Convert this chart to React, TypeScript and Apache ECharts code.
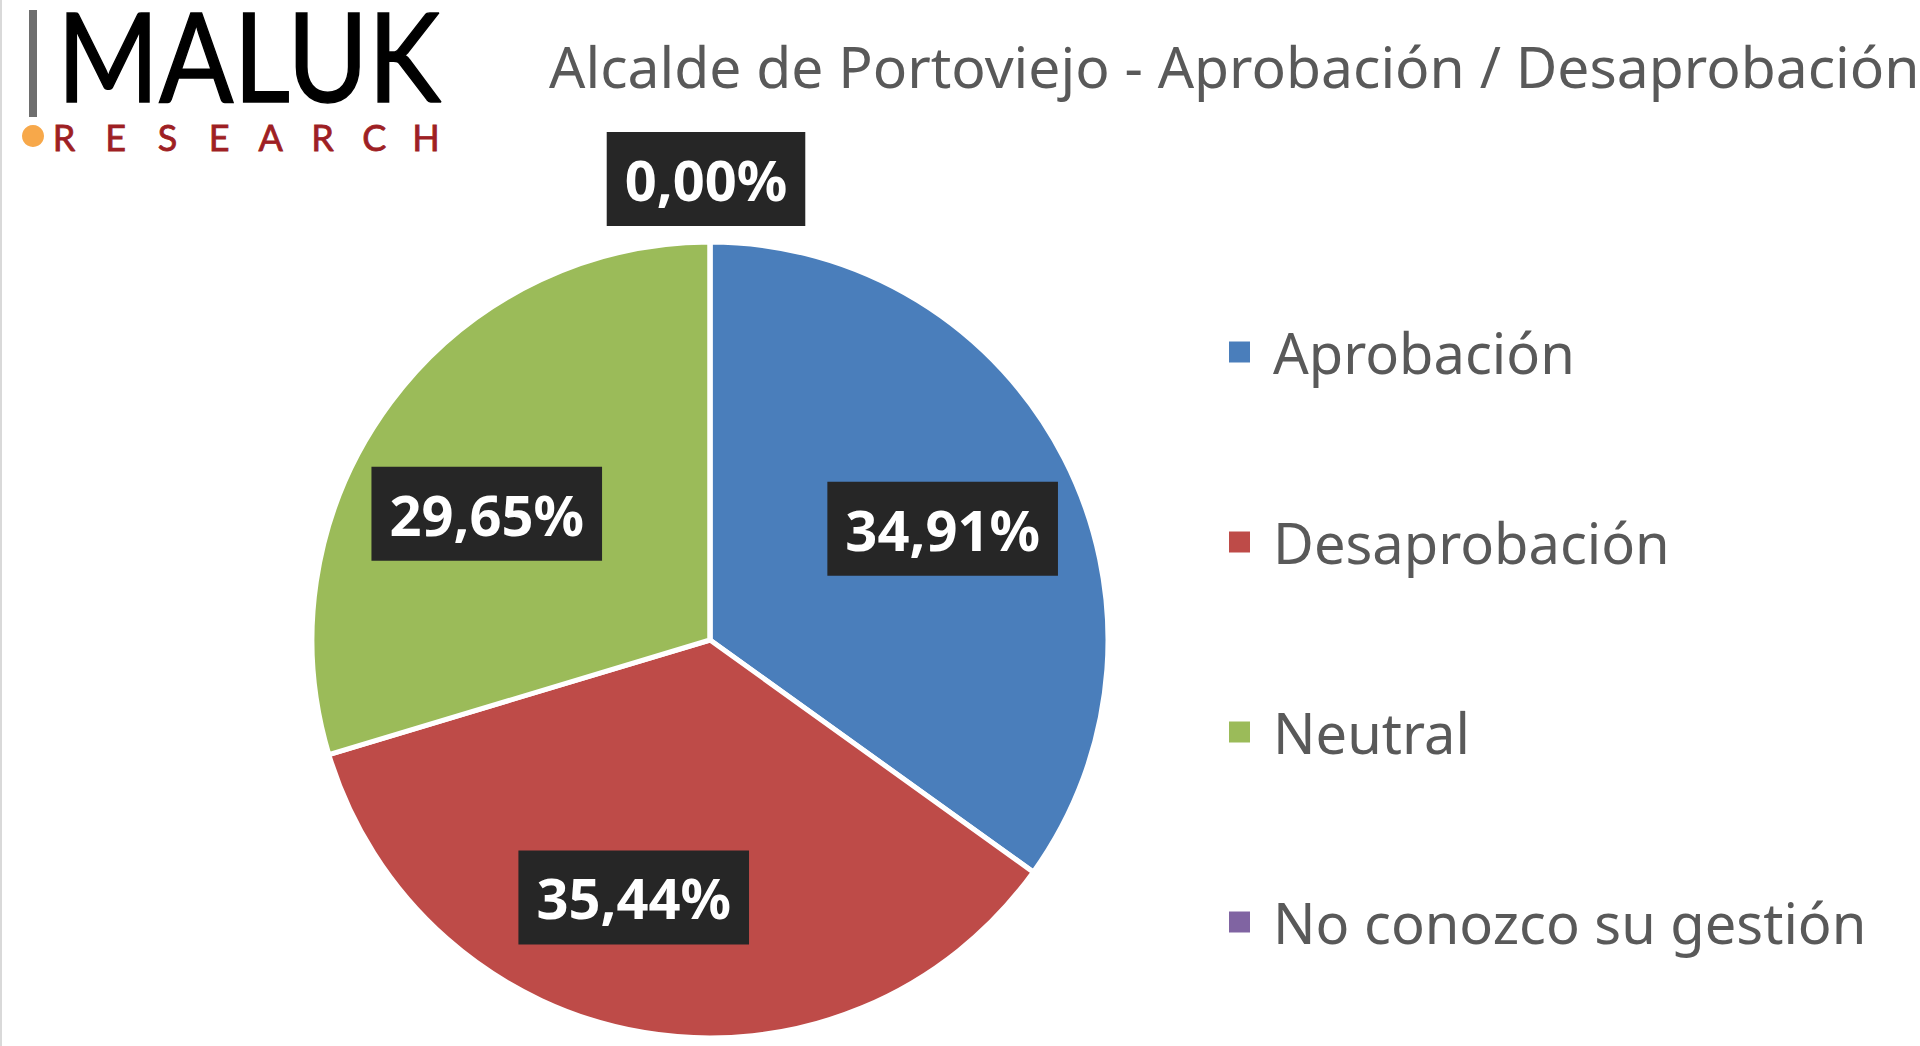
import React, { useEffect, useRef } from "react";
import * as echarts from "echarts";

const categories = ["Aprobación", "Desaprobación", "Neutral", "No conozco su gestión"];
const values = [34.91, 35.44, 29.65, 0.0];
const colors = ["#4A7EBB", "#BE4B48", "#9BBB59", "#8064A2"];
const titleText = "Alcalde de Portoviejo - Aprobación / Desaprobación";
const logoMain = "MALUK";
const logoSub = ["R", "E", "S", "E", "A", "R", "C", "H"];

const fmt = (v: number) => v.toFixed(2).replace(".", ",") + "%";

// small "best fit" nudges of the data labels, as the reference places them
const labelNudges = [
  [4, 6],
  [-34, 4],
  [-17, 27],
  [-4, 2],
];

const labelStyle = {
  color: "#ffffff",
  fontFamily: "Noto Sans",
  fontWeight: "bold" as const,
  fontSize: 56,
  lineHeight: 60,
  backgroundColor: "#262626",
  padding: [17, 18, 17, 18],
};

export default function App() {
  const ref = useRef<HTMLDivElement>(null);
  useEffect(() => {
    if (!ref.current) return;
    const chart = echarts.init(ref.current, null, { renderer: "svg" });
    const center = [710, 640];
    const baseData = categories.map((name, i) => ({
      name,
      value: values[i],
      itemStyle: { color: colors[i] },
    }));
    chart.setOption({
      animation: false,
      backgroundColor: "#ffffff",
      title: {
        text: titleText,
        left: 549,
        top: 37,
        padding: 0,
        textStyle: {
          fontFamily: "Noto Sans",
          fontWeight: "normal",
          fontSize: 57,
          lineHeight: 57,
          color: "#595959",
        },
      },
      legend: {
        orient: "vertical",
        left: 1222,
        top: 317,
        itemWidth: 23,
        itemHeight: 23,
        itemGap: 130,
        icon: "rect",
        data: categories.map((name, i) => ({ name, itemStyle: { color: colors[i] } })),
        textStyle: {
          fontFamily: "Noto Sans",
          fontSize: 56,
          lineHeight: 60,
          color: "#595959",
          padding: [0, 0, 0, 17],
        },
      },
      graphic: [
        { type: "line", shape: { x1: 1, y1: 0, x2: 1, y2: 1046 }, style: { stroke: "#d9d9d9", lineWidth: 2 } },
        { type: "rect", shape: { x: 29, y: 10, width: 8, height: 107 }, style: { fill: "#6e6e6e" } },
        {
          type: "text",
          x: 57,
          y: 54,
          scaleX: 0.88,
          style: {
            text: logoMain,
            x: 0,
            y: 0,
            font: "normal 125px Lato",
            lineHeight: 100,
            fill: "#000000",
            stroke: "#000000",
            lineWidth: 1.5,
            textAlign: "left",
            verticalAlign: "middle",
          },
        },
        { type: "circle", shape: { cx: 33, cy: 136, r: 11 }, style: { fill: "#F7A84A" } },
        ...logoSub.map((ch, i) => ({
          type: "text",
          x: 64 + i * 51.7,
          y: 137,
          style: {
            text: ch,
            x: 0,
            y: 0,
            font: "normal 36px Lato",
            fill: "#9E1F24",
            stroke: "#9E1F24",
            lineWidth: 0.8,
            textAlign: "center",
            verticalAlign: "middle",
          },
        })),
      ],
      series: [
        {
          type: "pie",
          center,
          radius: [0, 398],
          startAngle: 90,
          clockwise: true,
          silent: true,
          label: { show: false },
          labelLine: { show: false },
          itemStyle: { borderColor: "#ffffff", borderWidth: 5 },
          data: baseData,
        },
        {
          type: "pie",
          center,
          radius: [110, 398],
          startAngle: 90,
          clockwise: true,
          silent: true,
          itemStyle: { color: "transparent", borderWidth: 0 },
          labelLine: { show: false },
          data: categories.map((name, i) => ({
            name,
            value: values[i],
            label: { show: values[i] !== 0, offset: labelNudges[i] },
          })),
          label: {
            position: "inside",
            formatter: (p: any) => fmt(p.value),
            ...labelStyle,
          },
        },
        {
          type: "pie",
          center,
          radius: [400, 520],
          startAngle: 90,
          clockwise: true,
          silent: true,
          itemStyle: { color: "transparent", borderWidth: 0 },
          labelLine: { show: false },
          data: categories.map((name, i) => ({
            name,
            value: values[i],
            label: { show: values[i] === 0, offset: labelNudges[i] },
          })),
          label: {
            position: "inside",
            formatter: (p: any) => fmt(p.value),
            ...labelStyle,
          },
        },
      ],
    });
    return () => chart.dispose();
  }, []);
  return (
    <div
      ref={ref}
      style={{ position: "absolute", left: 0, top: 0, width: 1920, height: 1046 }}
    />
  );
}
